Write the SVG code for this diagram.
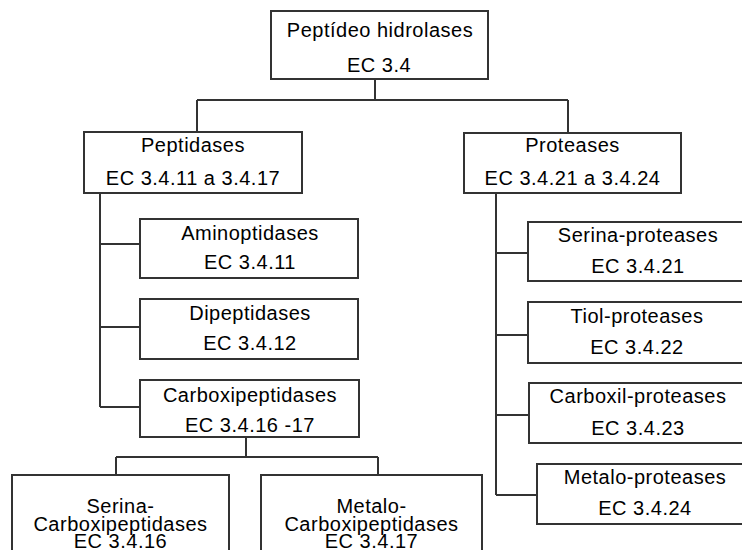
<svg xmlns="http://www.w3.org/2000/svg" width="742" height="550" viewBox="0 0 742 550">
<style>
.box{fill:#fff;stroke:#333;stroke-width:2}
.ln{fill:none;stroke:#333;stroke-width:2}
text{font-family:"Liberation Sans",Arial,sans-serif;font-size:20px;fill:#000;text-anchor:middle;letter-spacing:0.5px}
</style>
<rect width="742" height="550" fill="#fff"/>
<g id="connectors">
<path class="ln" d="M375,79V100M197,100H568M197,100V132M568,100V132"/>
<path class="ln" d="M100,193V407M100,244H140M100,327H140M100,407H140"/>
<path class="ln" d="M496,193V495M496,253H528M496,335H528M496,415H528M496,495H537"/>
<path class="ln" d="M246,437V457M116,457H378M116,457V475M378,457V475"/>
</g>
<g id="n-root"><rect class="box" x="271" y="11" width="217" height="68"/><text x="380" y="37">Peptídeo hidrolases</text><text x="379" y="72">EC 3.4</text></g>
<g id="n-peptidases"><rect class="box" x="84" y="132" width="218" height="61"/><text x="193" y="152">Peptidases</text><text x="193" y="185">EC 3.4.11 a 3.4.17</text></g>
<g id="n-proteases"><rect class="box" x="464" y="133" width="217" height="60"/><text x="572.5" y="152">Proteases</text><text x="572.5" y="185">EC 3.4.21 a 3.4.24</text></g>
<g id="n-amino"><rect class="box" x="140" y="219" width="218" height="59"/><text x="250" y="240">Aminoptidases</text><text x="250" y="269">EC 3.4.11</text></g>
<g id="n-dipep"><rect class="box" x="140" y="299" width="218" height="60"/><text x="250" y="320">Dipeptidases</text><text x="250" y="350">EC 3.4.12</text></g>
<g id="n-carboxi"><rect class="box" x="140" y="380" width="219" height="57"/><text x="250" y="402">Carboxipeptidases</text><text x="250" y="432">EC 3.4.16 -17</text></g>
<g id="n-serina-carboxi"><rect class="box" x="12" y="475" width="217" height="90"/><text x="120.5" y="513">Serina-</text><text x="120.5" y="531">Carboxipeptidases</text><text x="120.5" y="548">EC 3.4.16</text></g>
<g id="n-metalo-carboxi"><rect class="box" x="261" y="475" width="221" height="90"/><text x="371.5" y="513">Metalo-</text><text x="371.5" y="531">Carboxipeptidases</text><text x="371.5" y="548">EC 3.4.17</text></g>
<g id="n-serina-prot"><rect class="box" x="528" y="222" width="220" height="59"/><text x="638" y="242">Serina-proteases</text><text x="638" y="273">EC 3.4.21</text></g>
<g id="n-tiol"><rect class="box" x="528" y="302" width="220" height="61"/><text x="637" y="323">Tiol-proteases</text><text x="637" y="354">EC 3.4.22</text></g>
<g id="n-carboxil"><rect class="box" x="529" y="383" width="220" height="60"/><text x="638" y="403">Carboxil-proteases</text><text x="638" y="435">EC 3.4.23</text></g>
<g id="n-metalo-prot"><rect class="box" x="537" y="464" width="216" height="60"/><text x="645" y="484">Metalo-proteases</text><text x="645" y="515">EC 3.4.24</text></g>
</svg>
